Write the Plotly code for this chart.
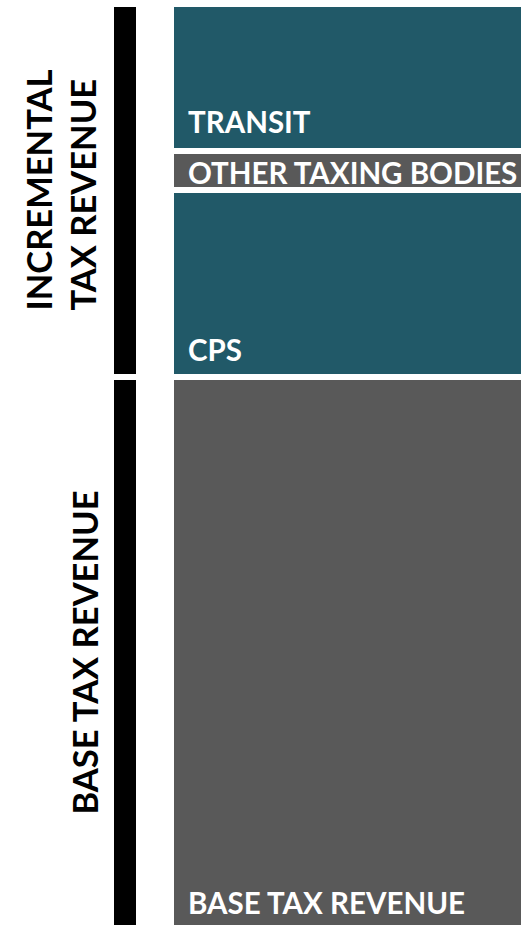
import plotly.graph_objects as go

# ---- data (stack order: bottom -> top) ----
segments = ["BASE TAX REVENUE", "CPS", "OTHER TAXING BODIES", "TRANSIT"]
values = [551, 187, 39, 147]
seg_colors = ["#595959", "#215968", "#595959", "#215968"]

groups = ["BASE TAX REVENUE", "INCREMENTAL<br>TAX REVENUE"]
group_members = [["BASE TAX REVENUE"], ["CPS", "OTHER TAXING BODIES", "TRANSIT"]]

# ---- layout constants ----
W, H = 521, 926
FONT = "Lato"
main_x, main_w = 385.5, 429
side_x, side_w = 125, 28
gap = 6
label_x = 186
label_offsets = [25.5, 28, 17.5, 30]   # px above segment bottom (cap middle)
group_text_x = [84, 60]

fig = go.Figure()

# main stacked bar
for name, v, c in zip(segments, values, seg_colors):
    fig.add_trace(go.Bar(
        x=[main_x], y=[v], width=[main_w], name=name,
        marker=dict(color=c, line=dict(color="white", width=gap)),
        hoverinfo="name+y",
    ))

# side black grouping bars
val_of = dict(zip(segments, values))
group_vals = [sum(val_of[m] for m in mem) for mem in group_members]
for g, gv in zip(groups, group_vals):
    fig.add_trace(go.Bar(
        x=[side_x], y=[gv], width=[side_w], name=g.replace("<br>", " "),
        marker=dict(color="black", line=dict(color="white", width=gap)),
        hoverinfo="name+y",
    ))

annotations = []
cum = 0
for name, v, off in zip(segments, values, label_offsets):
    annotations.append(dict(
        x=label_x, y=cum + off, xref="x", yref="y", text=name,
        showarrow=False, xanchor="left", yanchor="middle",
        font=dict(family=FONT, size=29.5, color="white", weight="bold"),
    ))
    cum += v

cum = 0
for g, gv, gx in zip(groups, group_vals, group_text_x):
    annotations.append(dict(
        x=gx, y=cum + gv / 2, xref="x", yref="y", text=g,
        showarrow=False, textangle=-90, align="left",
        xanchor="center", yanchor="middle",
        font=dict(family=FONT, size=34.5, color="black", weight="bold"),
    ))
    cum += gv

fig.update_layout(
    width=W, height=H, barmode="stack", showlegend=False,
    margin=dict(l=0, r=0, t=0, b=0),
    paper_bgcolor="white", plot_bgcolor="white",
    xaxis=dict(range=[0, W], visible=False, fixedrange=True),
    yaxis=dict(range=[2, 928], visible=False, fixedrange=True),
    annotations=annotations, bargap=0,
)

fig.write_html(
    "out.html",
    config={"displayModeBar": False},
    post_script="document.body.style.margin='0';document.body.style.overflow='hidden';",
)
